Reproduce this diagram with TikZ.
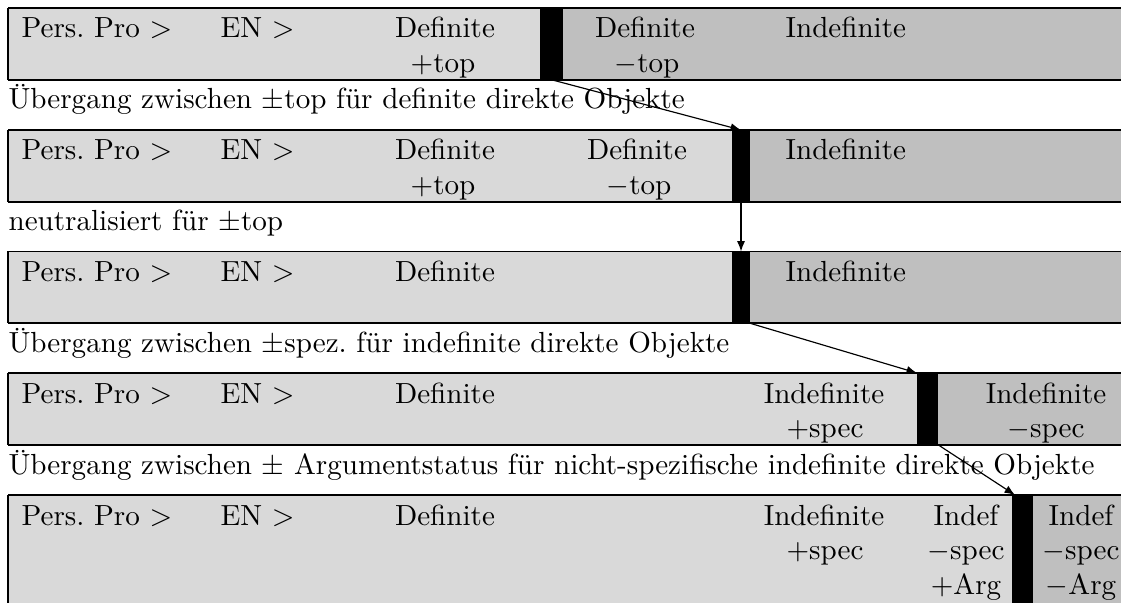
\documentclass[tikz,border=0pt]{standalone}
\usepackage{fontspec}
\usetikzlibrary{arrows.meta,calc,fit}
\definecolor{lightbg}{gray}{0.85}
\definecolor{darkbg}{gray}{0.75}
\begin{document}
\begin{tikzpicture}[x=0.34364pt,y=-0.34364pt,
  bar/.style={fill=black,draw=none,inner sep=0pt,outer sep=0pt},
  lt/.style={inner sep=0pt,anchor=base west},
  ct/.style={inner sep=0pt,anchor=base},
  toprule/.style={line width=0.4pt},
  botrule/.style={line width=0.8pt},
  conn/.style={-{Latex[length=3.6pt,width=2.8pt]},line width=0.4pt}]
\useasboundingbox (0,0) rectangle (1121,603);
% ---------- row 1 ----------
\fill[lightbg] (8,8) rectangle (540,79.75);
\fill[darkbg] (563,8) rectangle (1121,79.75);
\draw[toprule] (8,8) -- (1121,8);
\draw[botrule] (8,79.75) -- (1121,79.75);
\draw[botrule] (8,8) -- (8,79.75);
\node[bar,fit={(540,8) (563,79.75)}] (b1) {};
\node[lt] (p1) at (21,38) {Pers.\ Pro $>$};
\node[lt] (e1) at (220,38) {EN $>$};
\node[ct] (d1a) at (445,38) {Definite};
\node[ct] (t1a) at (443,72.5) {$+$top};
\node[ct] (d1b) at (645,38) {Definite};
\node[ct] (t1b) at (647,72.5) {$-$top};
\node[lt] (i1) at (785,38) {Indefinite};
\node[lt] (c1) at (8,109) {Übergang zwischen $\pm$top für definite direkte Objekte};
% ---------- row 2 ----------
\fill[lightbg] (8,130) rectangle (732,201.75);
\fill[darkbg] (750,130) rectangle (1121,201.75);
\draw[toprule] (8,130) -- (1121,130);
\draw[botrule] (8,201.75) -- (1121,201.75);
\draw[botrule] (8,130) -- (8,201.75);
\node[bar,fit={(732,130) (750,201.75)}] (b2) {};
\node[lt] (p2) at (21,160) {Pers.\ Pro $>$};
\node[lt] (e2) at (220,160) {EN $>$};
\node[ct] (d2a) at (445,160) {Definite};
\node[ct] (t2a) at (443,194.5) {$+$top};
\node[ct] (d2b) at (637,160) {Definite};
\node[ct] (t2b) at (639,194.5) {$-$top};
\node[lt] (i2) at (785,160) {Indefinite};
\node[lt] (c2) at (8,231) {neutralisiert für $\pm$top};
% ---------- row 3 ----------
\fill[lightbg] (8,251.5) rectangle (732,323.25);
\fill[darkbg] (750,251.5) rectangle (1121,323.25);
\draw[toprule] (8,251.5) -- (1121,251.5);
\draw[botrule] (8,323.25) -- (1121,323.25);
\draw[botrule] (8,251.5) -- (8,323.25);
\node[bar,fit={(732,251.5) (750,323.25)}] (b3) {};
\node[lt] (p3) at (21,281.5) {Pers.\ Pro $>$};
\node[lt] (e3) at (220,281.5) {EN $>$};
\node[ct] (d3) at (445,281.5) {Definite};
\node[lt] (i3) at (785,281.5) {Indefinite};
\node[lt] (c3) at (8,352) {Übergang zwischen $\pm$spez.\ für indefinite direkte Objekte};
% ---------- row 4 ----------
\fill[lightbg] (8,373) rectangle (917,444.75);
\fill[darkbg] (938,373) rectangle (1121,444.75);
\draw[toprule] (8,373) -- (1121,373);
\draw[botrule] (8,444.75) -- (1121,444.75);
\draw[botrule] (8,373) -- (8,444.75);
\node[bar,fit={(917,373) (938,444.75)}] (b4) {};
\node[lt] (p4) at (21,403) {Pers.\ Pro $>$};
\node[lt] (e4) at (220,403) {EN $>$};
\node[ct] (d4) at (445,403) {Definite};
\node[ct] (i4a) at (824,403) {Indefinite};
\node[ct] (s4a) at (825,437.5) {$+$spec};
\node[ct] (i4b) at (1046,403) {Indefinite};
\node[ct] (s4b) at (1046,437.5) {$-$spec};
\node[lt] (c4) at (8,474) {Übergang zwischen $\pm$ Argumentstatus für nicht-spezifische indefinite direkte Objekte};
% ---------- row 5 ----------
\fill[lightbg] (8,495) rectangle (1012,603);
\fill[darkbg] (1033,495) rectangle (1121,603);
\draw[toprule] (8,495) -- (1121,495);
\draw[botrule] (8,495) -- (8,603);
\node[bar,fit={(1012,495) (1033,603)}] (b5) {};
\node[lt] (p5) at (21,525) {Pers.\ Pro $>$};
\node[lt] (e5) at (220,525) {EN $>$};
\node[ct] (d5) at (445,525) {Definite};
\node[ct] (i5a) at (824,525) {Indefinite};
\node[ct] (s5a) at (825,559.5) {$+$spec};
\node[ct] (i5b) at (966,525) {Indef};
\node[ct] (s5b) at (966,559.5) {$-$spec};
\node[ct] (g5b) at (966,594) {$+$Arg};
\node[ct] (i5c) at (1081,525) {Indef};
\node[ct] (s5c) at (1081,559.5) {$-$spec};
\node[ct] (g5c) at (1081,594) {$-$Arg};
% ---------- connectors ----------
\draw[conn] (b1.south) -- (b2.north);
\draw[conn] (b2.south) -- (b3.north);
\draw[conn] (b3.south east) -- (b4.north west);
\draw[conn] (b4.south east) -- ($(b5.north west)+(3,0)$);
\end{tikzpicture}
\end{document}
